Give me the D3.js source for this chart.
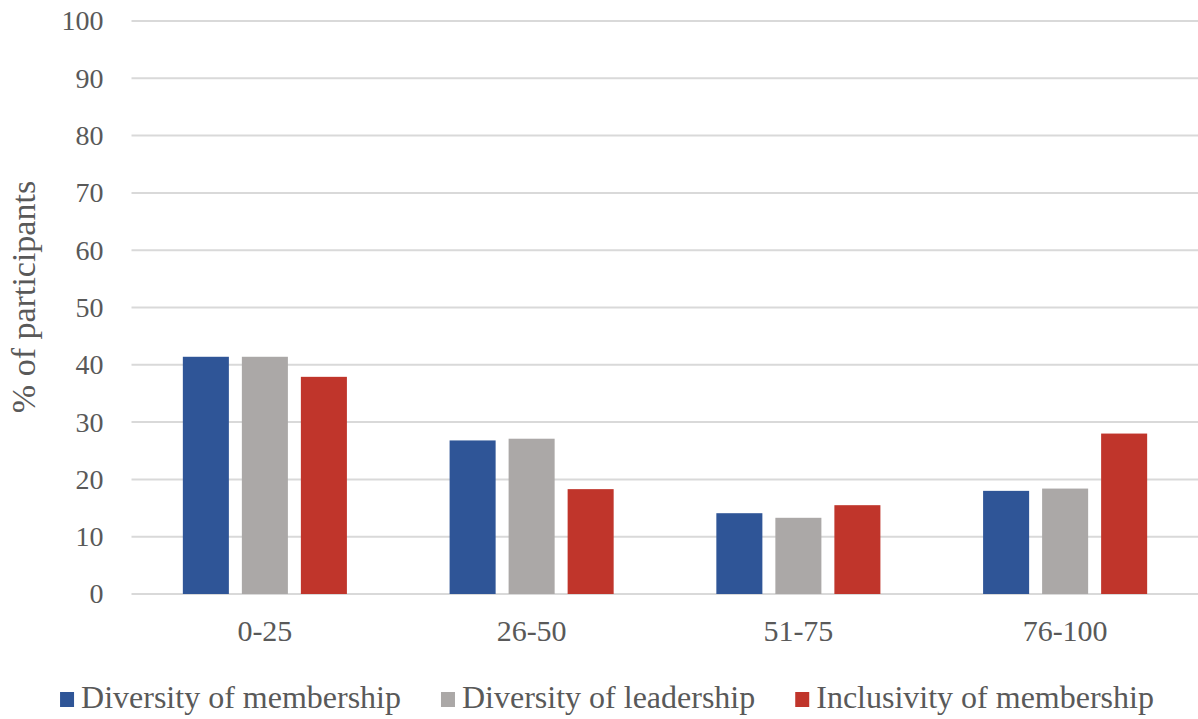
<!DOCTYPE html>
<html>
<head>
<meta charset="utf-8">
<script src="https://cdn.jsdelivr.net/npm/d3@7"></script>
<style>
  html, body { margin: 0; padding: 0; background: #fff; }
  svg { display: block; }
  text { font-family: "Liberation Serif", "Times New Roman", serif; fill: #595959; }
</style>
</head>
<body>
<svg id="chart" width="1198" height="719"></svg>
<script>
const categories = ["0-25", "26-50", "51-75", "76-100"];
const seriesNames = ["Diversity of membership", "Diversity of leadership", "Inclusivity of membership"];
const diversityMembership = [41.4, 26.8, 14.1, 18.0];
const diversityLeadership = [41.4, 27.1, 13.3, 18.4];
const inclusivityMembership = [37.9, 18.3, 15.5, 28.0];
const seriesColors = ["#2F5597", "#ABA8A7", "#C0352B"];
const yTicks = [0, 10, 20, 30, 40, 50, 60, 70, 80, 90, 100];

const seriesValues = [diversityMembership, diversityLeadership, inclusivityMembership];

const svg = d3.select("#chart");
const W = 1198, H = 719;
const margin = { left: 131.5, right: -0.5, top: 21, bottom: 125 };
const plotW = W - margin.left - margin.right;
const plotH = H - margin.top - margin.bottom;

const x0 = d3.scaleBand().domain(categories).range([margin.left, margin.left + plotW]).padding(0);
const x1 = d3.scaleBand().domain(seriesNames).range([0, x0.bandwidth()]).paddingInner(0.22).paddingOuter(0.87);
const y = d3.scaleLinear().domain([0, 100]).range([margin.top + plotH, margin.top]);

// gridlines
svg.append("g").selectAll("line").data(yTicks).join("line")
  .attr("x1", margin.left).attr("x2", W)
  .attr("y1", d => y(d)).attr("y2", d => y(d))
  .attr("stroke", "#D9D9D9").attr("stroke-width", 2);

// y axis labels
const yAxis = d3.axisLeft(y).tickValues(yTicks).tickSize(0).tickPadding(28);
const gy = svg.append("g").attr("transform", `translate(${margin.left},0)`).call(yAxis);
gy.select(".domain").remove();
gy.selectAll("text").style("font-size", "28px").attr("fill", "#595959")
  .style("font-family", '"Liberation Serif", serif');

// bars
const groups = svg.append("g").selectAll("g").data(categories).join("g")
  .attr("transform", d => `translate(${x0(d)},0)`);
groups.selectAll("rect")
  .data((c, i) => seriesNames.map((s, j) => ({ s, j, v: seriesValues[j][i] })))
  .join("rect")
  .attr("x", d => x1(d.s))
  .attr("width", x1.bandwidth())
  .attr("y", d => y(d.v))
  .attr("height", d => y(0) - y(d.v))
  .attr("fill", d => seriesColors[d.j]);

// x axis labels
const xAxis = d3.axisBottom(x0).tickSize(0).tickPadding(26);
const gx = svg.append("g").attr("transform", `translate(0,${y(0)})`).call(xAxis);
gx.select(".domain").remove();
gx.selectAll("text").style("font-size", "30px").attr("fill", "#595959")
  .style("font-family", '"Liberation Serif", serif');

// y title
svg.append("text")
  .attr("transform", `translate(35,297) rotate(-90)`)
  .attr("text-anchor", "middle")
  .style("font-size", "34px")
  .text("% of participants");

// legend
const legend = svg.append("g");
const items = legend.selectAll("g").data(seriesNames).join("g");
items.append("rect").attr("width", 14).attr("height", 15).attr("y", -16)
  .attr("fill", (d, i) => seriesColors[i]);
items.append("text").attr("x", 21).style("font-size", "32px").text(d => d);
let cx = 0;
const gap = 40;
items.each(function() {
  const w = this.getBBox().width;
  d3.select(this).attr("transform", `translate(${cx},0)`);
  cx += w + gap;
});
const totalW = cx - gap;
legend.attr("transform", `translate(${(W - totalW) / 2 + 8},708)`);
</script>
</body>
</html>
